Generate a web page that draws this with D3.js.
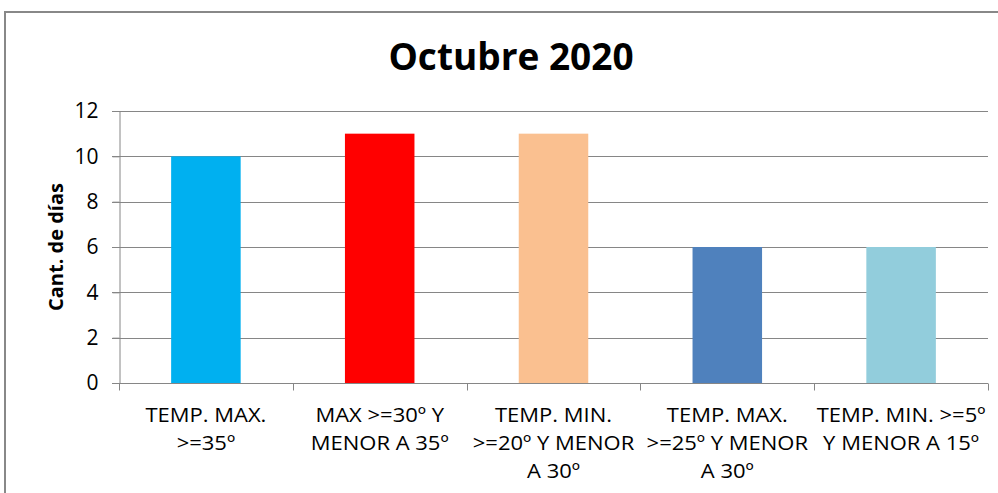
<!DOCTYPE html>
<html>
<head>
<meta charset="utf-8">
<script src="https://cdn.jsdelivr.net/npm/d3@7"></script>
<style>
  body { margin: 0; background: #fff; }
  text { font-family: "Open Sans", sans-serif; fill: #000; }
</style>
</head>
<body>
<svg id="chart" width="998" height="493"></svg>
<script>
'use strict';

// data
const categories = [
	'TEMP. MAX.\n>=35º',
	'MAX >=30º Y\nMENOR A 35º',
	'TEMP. MIN.\n>=20º Y MENOR\nA 30º',
	'TEMP. MAX.\n>=25º Y MENOR\nA 30º',
	'TEMP. MIN. >=5º\nY MENOR A 15º',
];
const values = [10, 11, 11, 6, 6];
const colors = ['#00B0F0', '#FF0000', '#FAC090', '#4F81BD', '#92CDDC'];
const yTicks = [0, 2, 4, 6, 8, 10, 12];
const title = 'Octubre 2020';
const yTitle = 'Cant. de días';

const svg = d3.select('#chart');
const margin = { left: 119, right: 10, top: 111, bottom: 110 };
const width = 998, height = 493;
const stretch = 1.1; // the original text is a bit wider than Open Sans

// chart frame (clipped at right and bottom in the original)
svg.append('path')
	.attr('d', `M5,${height + 2}V12H${width + 2}`)
	.attr('fill', 'none')
	.attr('stroke', '#888')
	.attr('stroke-width', 2);

let x = d3.scaleBand()
	.domain(d3.range(categories.length))
	.range([margin.left, width - margin.right])
	.paddingInner(0.6)
	.paddingOuter(0.3);

let xEdges = d3.scaleLinear()
	.domain([0, categories.length])
	.range([margin.left, width - margin.right]);

let y = d3.scaleLinear()
	.domain([0, 12])
	.range([height - margin.bottom, margin.top]);

// gridlines
svg.append('g')
	.selectAll('line')
	.data(yTicks)
	.join('line')
	.attr('x1', margin.left - 7)
	.attr('x2', width - margin.right)
	.attr('y1', d => Math.round(y(d)) + 0.5)
	.attr('y2', d => Math.round(y(d)) + 0.5)
	.attr('stroke', '#868686');

// y axis
let yAxis = svg.append('g')
	.attr('transform', `translate(${margin.left + 0.5},0)`)
	.call(d3.axisLeft(y).tickValues(yTicks).tickSize(7).tickPadding(14));
yAxis.select('.domain').attr('stroke', '#868686');
yAxis.selectAll('.tick line').attr('stroke', '#868686');
yAxis.selectAll('.tick text')
	.style('font-size', '21px')
	.attr('font-family', null);

// bars
svg.append('g')
	.selectAll('rect')
	.data(values)
	.join('rect')
	.attr('x', (d, i) => x(i))
	.attr('width', x.bandwidth())
	.attr('y', d => y(d))
	.attr('height', d => y(0) - y(d))
	.attr('fill', (d, i) => colors[i]);

// x axis line and tick marks at band edges
let base = Math.round(y(0)) + 0.5;
svg.append('line')
	.attr('x1', margin.left).attr('x2', width - margin.right)
	.attr('y1', base).attr('y2', base)
	.attr('stroke', '#868686');
svg.append('g')
	.selectAll('line')
	.data(d3.range(categories.length + 1))
	.join('line')
	.attr('x1', d => Math.round(xEdges(d)) + 0.5)
	.attr('x2', d => Math.round(xEdges(d)) + 0.5)
	.attr('y1', base)
	.attr('y2', base + 7)
	.attr('stroke', '#868686');

// category labels
svg.append('g')
	.selectAll('text')
	.data(categories)
	.join('text')
	.attr('text-anchor', 'middle')
	.attr('transform', (d, i) => `translate(${x(i) + x.bandwidth() / 2},421.5) scale(${stretch},1)`)
	.style('font-size', '20px')
	.each(function (d) {
		let t = d3.select(this);
		d.split('\n').forEach((line, k) => {
			t.append('tspan')
				.attr('x', 0)
				.attr('y', k * 28.5)
				.text(line);
		});
	});

// titles
svg.append('text')
	.attr('x', 511)
	.attr('y', 70)
	.attr('text-anchor', 'middle')
	.style('font-size', '37px')
	.style('font-weight', 'bold')
	.text(title);

svg.append('text')
	.attr('transform', `translate(63,${(y(0) + y(12)) / 2}) rotate(-90)`)
	.attr('text-anchor', 'middle')
	.style('font-size', '20px')
	.style('font-weight', 'bold')
	.text(yTitle);
</script>
</body>
</html>
